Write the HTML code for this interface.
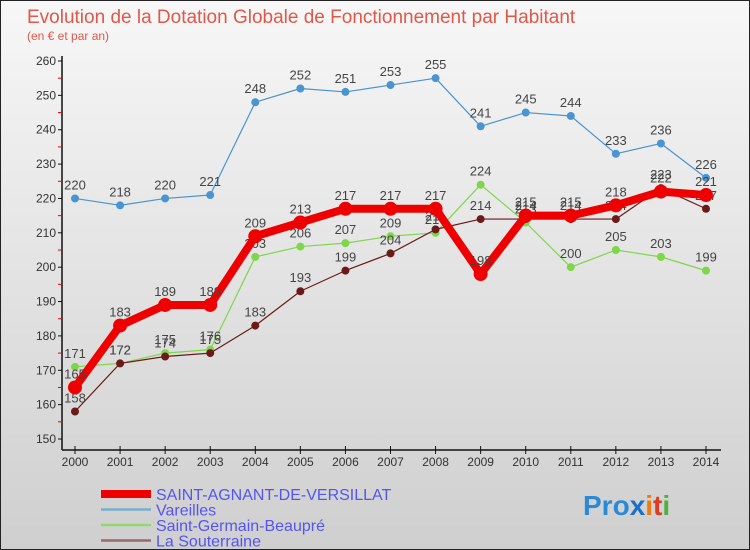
<!DOCTYPE html>
<html><head><meta charset="utf-8"><style>
body{margin:0}
#c{width:748px;height:548px;border:1px solid #222;background:linear-gradient(#f7f7f7,#cfcfcf);position:relative;font-family:"Liberation Sans","DejaVu Sans",sans-serif;overflow:hidden}
</style></head><body>
<div id="c">
<svg id="s" width="748" height="548" xmlns="http://www.w3.org/2000/svg"></svg>
</div>
<script>
const years=["2000","2001","2002","2003","2004","2005","2006","2007","2008","2009","2010","2011","2012","2013","2014"];
const yTicks=[150,160,170,180,190,200,210,220,230,240,250,260];
const agnant=[165,183,189,189,209,213,217,217,217,198,215,215,218,222,221];
const vareilles=[220,218,220,221,248,252,251,253,255,241,245,244,233,236,226];
const sgb=[171,172,175,176,203,206,207,209,210,224,213,200,205,203,199];
const souterraine=[158,172,174,175,183,193,199,204,211,214,214,214,214,223,217];
const svg=document.getElementById('s');const NS='http://www.w3.org/2000/svg';
function X(i){return 74+i*(705-74)/14;}
function Y(v){return 438-(v-150)*(438-60)/110;}
function el(t,a,p){const e=document.createElementNS(NS,t);for(const k in a)e.setAttribute(k,a[k]);(p||svg).appendChild(e);return e;}
function tx(x,y,s,size,fill,anchor){const e=el('text',{x:x,y:y,'font-size':size,fill:fill,'text-anchor':anchor||'middle'});e.textContent=s;return e;}
let t=tx(26,22,'Evolution de la Dotation Globale de Fonctionnement par Habitant',19,'#e0584a','start');


t=tx(26,39,'(en € et par an)',12,'#e0584a','start');


let a=el('line',{x1:61,y1:55,x2:61,y2:449,stroke:'#111','stroke-width':1.5});


a=el('line',{x1:61,y1:449,x2:720,y2:449,stroke:'#111','stroke-width':1.5});


yTicks.forEach(v=>{el('line',{x1:57,y1:Y(v),x2:61,y2:Y(v),stroke:'#111'});
 if(v<260)el('line',{x1:57,y1:Y(v+5),x2:61,y2:Y(v+5),stroke:'#e00'});
 const l=tx(55,Y(v)+4,String(v),12,'#333','end');
 
 });
years.forEach((y,i)=>{el('line',{x1:X(i),y1:445,x2:X(i),y2:453,stroke:'#111'});
 const l=tx(X(i),465,y,12,'#333');
 
 });
function series(d,color,w,r,name){
 const g=el('g',{});
 
 
 el('polyline',{points:d.map((v,i)=>X(i)+','+Y(v)).join(' '),fill:'none',stroke:color,'stroke-width':w,'stroke-linejoin':'round'},g);
 d.forEach((v,i)=>{const c=el('circle',{cx:X(i),cy:Y(v),r:r,fill:color},g);
  
  
  tx(X(i),Y(v)-9,String(v),13,'#444');});
}
series(vareilles,'#4a94cf',1.2,4,'series-vareilles');
series(sgb,'#7fd64a',1.2,4,'series-saint-germain-beaupre');
series(souterraine,'#6b1a1a',1.2,4,'series-la-souterraine');
series(agnant,'#ee0000',8,7,'series-saint-agnant');
const leg=[['SAINT-AGNANT-DE-VERSILLAT','#ee0000',8],['Vareilles','#7aaed0',2.5],['Saint-Germain-Beaupré','#90d870',2.5],['La Souterraine','#9a6a6a',2.5]];
leg.forEach((l,i)=>{const y=493+i*15.5;const g=el('g',{});
 
 
 el('line',{x1:100,y1:y,x2:150,y2:y,stroke:l[1],'stroke-width':l[2]},g);
 const tt=tx(155,y+6,l[0],16,'#5555ee','start');g.appendChild(tt);});
const lg=el('text',{x:582,y:514,'font-size':28,'font-weight':'bold'});


[['Pr','#2a8ad8'],['o','#2a8ad8'],['x','#1a70c8'],['i','#f07a10'],['t','#e03a20'],['i','#50b040']].forEach(p=>{const s=el('tspan',{fill:p[1]},lg);s.textContent=p[0];});
</script>
</body></html>
